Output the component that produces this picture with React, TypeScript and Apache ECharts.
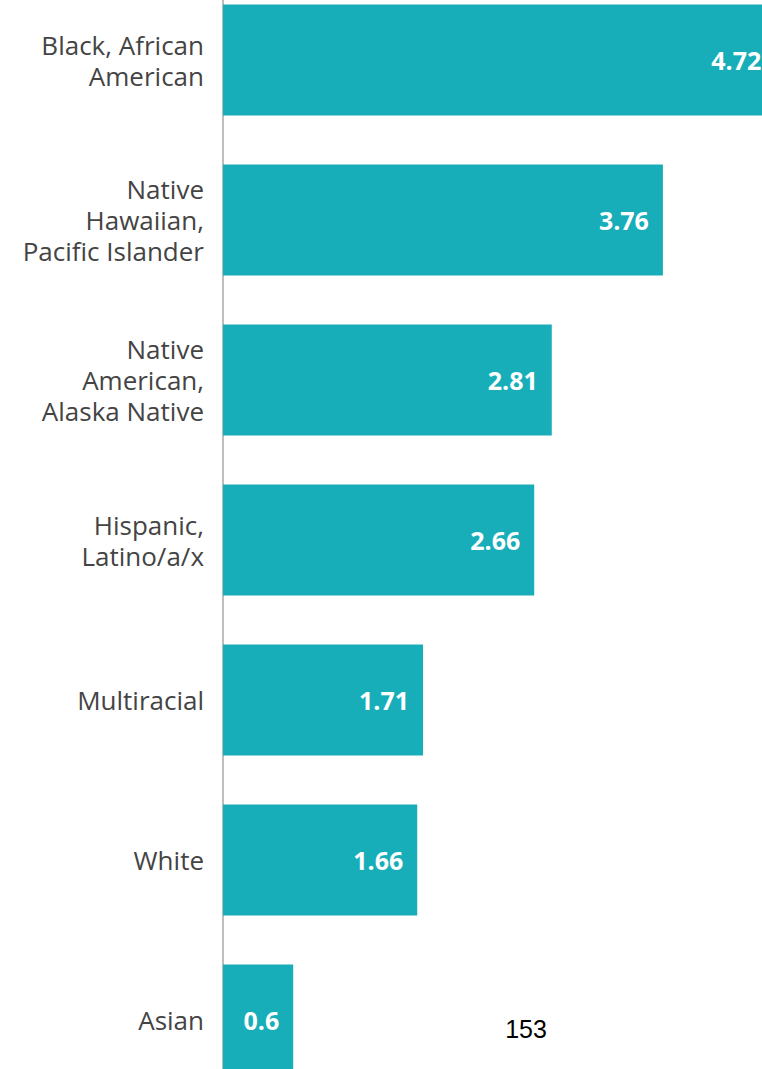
import React, { useEffect, useRef } from "react";
import * as echarts from "echarts";

const categories = [
  "Black, African\nAmerican",
  "Native\nHawaiian,\nPacific Islander",
  "Native\nAmerican,\nAlaska Native",
  "Hispanic,\nLatino/a/x",
  "Multiracial",
  "White",
  "Asian",
];
const values = [4.72, 3.76, 2.81, 2.66, 1.71, 1.66, 0.6];
const pageNumber = "153";

const BAR_COLOR = "#17AEB9";

export default function App() {
  const ref = useRef<HTMLDivElement>(null);

  useEffect(() => {
    if (!ref.current) return;
    const chart = echarts.init(ref.current, undefined, { renderer: "svg" });
    chart.setOption({
      animation: false,
      grid: { left: 223, top: 0, bottom: 0, width: 585, containLabel: false },
      xAxis: {
        type: "value",
        min: 0,
        max: 5,
        show: false,
      },
      yAxis: {
        type: "category",
        data: categories,
        inverse: true,
        axisLine: { show: true, lineStyle: { color: "#a8a8a8", width: 1.5 } },
        axisTick: { show: false },
        splitLine: { show: false },
        axisLabel: {
          color: "#444444",
          fontFamily: "Open Sans",
          fontSize: 26,
          lineHeight: 31,
          margin: 19,
          align: "right",
        },
      },
      series: [
        {
          type: "bar",
          data: values,
          barWidth: 111,
          clip: false,
          itemStyle: { color: BAR_COLOR },
          label: {
            show: true,
            position: "insideRight",
            distance: 14,
            color: "#ffffff",
            fontFamily: "Open Sans",
            fontWeight: "bold",
            fontSize: 25,
            formatter: (p: any) => String(p.value),
          },
        },
      ],
      graphic: [
        {
          type: "text",
          x: 526,
          y: 1029 + 20,
          style: {
            text: pageNumber,
            fill: "#000000",
            font: "25px 'Liberation Sans', Arial, sans-serif",
            textAlign: "center",
            textVerticalAlign: "middle",
          },
        },
      ],
    });
    return () => chart.dispose();
  }, []);

  return (
    <div
      style={{
        position: "fixed",
        left: 0,
        top: 0,
        width: 762,
        height: 1069,
        overflow: "hidden",
        background: "#ffffff",
      }}
    >
      <div
        ref={ref}
        style={{ position: "absolute", left: 0, top: -20, width: 820, height: 1120 }}
      />
    </div>
  );
}
